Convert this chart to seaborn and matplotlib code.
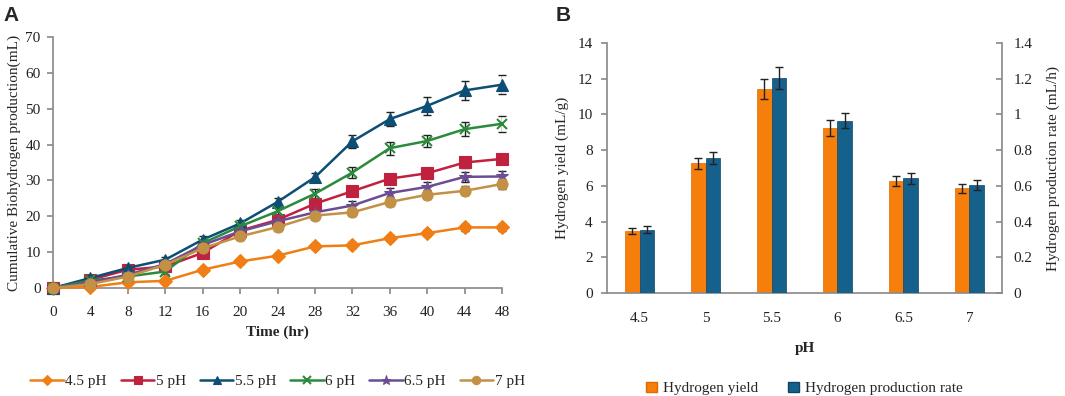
import matplotlib
matplotlib.use("Agg")
import matplotlib.pyplot as plt
import seaborn as sns
import numpy as np
import pandas as pd
from matplotlib.patches import Patch

# ---------------- data ----------------
time_hr = [0, 4, 8, 12, 16, 20, 24, 28, 32, 36, 40, 44, 48]
ph45 = [0, 0.3, 1.6, 2.0, 5.1, 7.4, 9.0, 11.6, 11.9, 13.9, 15.3, 16.9, 16.9]
ph5 = [0, 2.3, 5.1, 6.0, 9.8, 16.0, 19.0, 23.5, 27.0, 30.5, 32.0, 35.0, 36.0]
ph55 = [0, 2.8, 5.6, 7.9, 13.5, 18.0, 24.0, 30.9, 40.9, 47.1, 50.8, 55.1, 56.7]
ph6 = [0, 2.1, 3.2, 4.6, 12.5, 17.2, 21.4, 26.3, 32.2, 39.0, 41.0, 44.3, 45.8]
ph65 = [0, 1.6, 3.7, 6.7, 12.0, 15.8, 18.6, 21.1, 23.0, 26.5, 28.2, 31.0, 31.1]
ph7 = [0, 1.1, 3.2, 6.5, 11.1, 14.4, 17.0, 20.2, 21.1, 24.0, 26.0, 27.1, 29.0]
err45 = [0.4, 0.4, 0.5, 0.5, 0.6, 0.6, 0.7, 0.8, 0.8, 0.9, 0.9, 1.0, 1.0]
err5 = [0.4, 0.5, 0.6, 0.6, 0.8, 0.9, 1.0, 1.1, 1.2, 1.3, 1.3, 1.4, 1.5]
err55 = [0.4, 0.6, 0.7, 0.8, 0.9, 1.0, 1.2, 1.3, 1.8, 2.0, 2.5, 2.6, 2.7]
err6 = [0.4, 0.5, 0.6, 0.6, 0.8, 0.9, 1.0, 1.2, 1.5, 1.8, 1.8, 1.9, 2.3]
err65 = [0.4, 0.5, 0.6, 0.6, 0.8, 0.9, 1.0, 1.1, 1.2, 1.3, 1.3, 1.4, 1.4]
err7 = [0.4, 0.5, 0.6, 0.6, 0.8, 0.9, 1.0, 1.0, 1.1, 1.2, 1.3, 1.3, 1.4]
series_labels = ["4.5 pH", "5 pH", "5.5 pH", "6 pH", "6.5 pH", "7 pH"]

ph_cats = ["4.5", "5", "5.5", "6", "6.5", "7"]
h2_yield = [3.47, 7.26, 11.41, 9.23, 6.26, 5.87]
h2_yield_err = [0.15, 0.30, 0.55, 0.45, 0.28, 0.25]
h2_rate = [0.355, 0.757, 1.204, 0.966, 0.643, 0.606]
h2_rate_err = [0.018, 0.035, 0.060, 0.040, 0.030, 0.027]

# ---------------- style ----------------
sns.set_theme(style="white")
plt.rcParams['font.family'] = ['Liberation Serif', 'DejaVu Serif']
plt.rcParams['axes.edgecolor'] = '#8c8c8c'

fig = plt.figure(figsize=(10.65, 3.96), dpi=100)

# ---------------- panel A ----------------
axA = fig.add_axes([0.0498, 0.2727, 0.4216, 0.6339])
ys = [ph45, ph5, ph55, ph6, ph65, ph7]
errs = [err45, err5, err55, err6, err65, err7]
colors = ["#F07E14", "#C0213F", "#0C4E74", "#2C8A3C", "#6B4D94", "#C39146"]
markers = ["D", "s", "^", "x", "*", "o"]
msizes = [7, 8, 8, 7, 9, 8]

for y, e, c, m, ms, lab in zip(ys, errs, colors, markers, msizes, series_labels):
    df = pd.DataFrame({"t": time_hr, "v": y})
    axA.errorbar(time_hr, y, yerr=e, fmt="none", ecolor="#222222",
                 elinewidth=1.0, capsize=3, capthick=1.0, zorder=2)
    sns.lineplot(data=df, x="t", y="v", ax=axA, color=c, marker=m,
                 markersize=ms, markeredgecolor=c,
                 markeredgewidth=1.5 if m == "x" else 0.8,
                 linewidth=1.8, label=lab, zorder=3)

axA.set_xlim(0, 48)
axA.set_ylim(0, 70)
axA.set_xticks(time_hr)
axA.set_yticks(range(0, 71, 10))
axA.tick_params(axis="both", labelsize=11, colors="#222222", length=4,
                color="#8c8c8c", direction="out", bottom=True, left=True)
axA.tick_params(axis="x", pad=9)
axA.tick_params(axis="y", pad=5)
axA.set_xlabel("Time (hr)", fontsize=11, fontweight="bold", labelpad=5)
axA.set_ylabel("Cumulative Biohydrogen production(mL)", fontsize=11, labelpad=3)
sns.despine(ax=axA)
for ln in axA.lines:
    ln.set_clip_on(False)
axA.legend(loc="upper center", bbox_to_anchor=(0.5, -0.29), ncol=6,
           frameon=False, fontsize=11, handlelength=2.2, columnspacing=0.9,
           handletextpad=0.1, markerscale=0.75)

fig.text(0.003, 0.985, "A", fontsize=15, fontweight="bold",
         family="Liberation Sans", va="top", ha="left")

# ---------------- panel B ----------------
axB = fig.add_axes([0.5695, 0.2601, 0.3718, 0.6313])
axB2 = axB.twinx()
bw = 0.22
sns.barplot(x=ph_cats, y=h2_yield, ax=axB, color="#F67E0B", width=bw,
            saturation=1, edgecolor="#E06A00", linewidth=0.5)
sns.barplot(x=ph_cats, y=h2_rate, ax=axB2, color="#16608C", width=bw,
            saturation=1, edgecolor="#0E4466", linewidth=0.5)
for p in axB.patches:
    p.set_x(p.get_x() - bw / 2)
for p in axB2.patches:
    p.set_x(p.get_x() + bw / 2)
xpos = np.arange(len(ph_cats))
axB.errorbar(xpos - bw / 2, h2_yield, yerr=h2_yield_err, fmt="none",
             ecolor="#222222", elinewidth=1.0, capsize=3, capthick=1.0, zorder=5)
axB2.errorbar(xpos + bw / 2, h2_rate, yerr=h2_rate_err, fmt="none",
              ecolor="#222222", elinewidth=1.0, capsize=3, capthick=1.0, zorder=5)

axB.set_xlim(-0.5, 5.5)
axB.set_ylim(0, 14)
axB2.set_ylim(0, 1.4)
axB.set_yticks(range(0, 15, 2))
axB2.set_yticks([0, 0.2, 0.4, 0.6, 0.8, 1.0, 1.2, 1.4])
axB2.set_yticklabels(["0", "0.2", "0.4", "0.6", "0.8", "1", "1.2", "1.4"])
axB.set_xticks(xpos)
axB.set_xticklabels(ph_cats)
axB.set_xticks(np.arange(-0.5, 6.0, 1.0), minor=True)
axB.tick_params(axis="x", which="major", length=0, pad=14)
axB.tick_params(axis="x", which="minor", length=4, color="#8c8c8c", direction="out")
axB.tick_params(axis="y", labelsize=11, colors="#222222", length=4,
                color="#8c8c8c", direction="out", left=True, pad=6)
axB.tick_params(axis="x", labelsize=11, colors="#222222")
axB2.tick_params(axis="y", labelsize=11, colors="#222222", length=4,
                 color="#8c8c8c", direction="in", right=True, pad=8)
axB.set_xlabel("pH", fontsize=11, fontweight="bold", labelpad=12)
axB.set_ylabel("Hydrogen yield (mL/g)", fontsize=11, labelpad=6)
axB2.set_ylabel("Hydrogen production rate (mL/h)", fontsize=11, labelpad=10)
for a in (axB, axB2):
    a.spines["top"].set_visible(False)
    a.grid(False)
axB.spines["right"].set_visible(False)
axB2.spines["left"].set_visible(False)
axB2.spines["bottom"].set_visible(False)

handles = [Patch(facecolor="#F67E0B", edgecolor="#E06A00"),
           Patch(facecolor="#16608C", edgecolor="#0E4466")]
axB.legend(handles, ["Hydrogen yield", "Hydrogen production rate"],
           loc="upper center", bbox_to_anchor=(0.5, -0.3), ncol=2,
           frameon=False, fontsize=11, handlelength=0.7, handleheight=0.7,
           columnspacing=2.0, handletextpad=0.4)

fig.text(0.522, 0.985, "B", fontsize=15, fontweight="bold",
         family="Liberation Sans", va="top", ha="left")

fig.savefig("out.png", dpi=100)
